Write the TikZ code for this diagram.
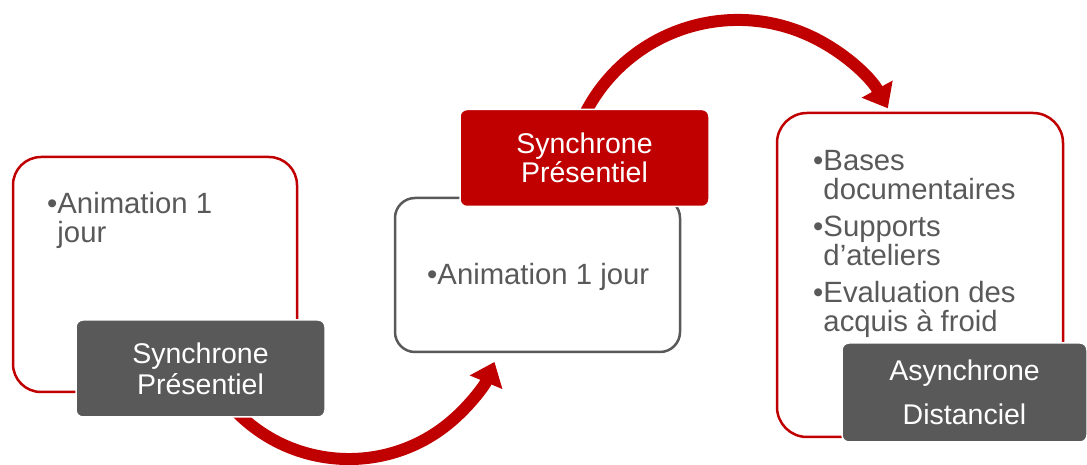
\documentclass[tikz,border=0pt]{standalone}
\usepackage{fontspec}
\setmainfont{Liberation Sans}
\usetikzlibrary{arrows.meta}
\definecolor{brickred}{HTML}{C00000}
\definecolor{slate}{HTML}{595959}

\begin{document}
\begin{tikzpicture}
  [x=1pt, y=1pt,
   every node/.style={font=\fontsize{28.5}{29.5}\selectfont},
   phase/.style={draw, line width=2.5pt, fill=white, rounded corners=28pt, inner sep=0pt},
   phasetag/.style={draw=white, line width=1.5pt, rounded corners=7pt, text=white, align=center,
                    minimum width=249pt, minimum height=97pt, inner sep=0pt},
   bullets/.style={text=slate, align=left, inner sep=0pt, anchor=base west,
                   font=\fontsize{29.3}{29.5}\selectfont},
   cyclearrow/.style={brickred, line width=12pt, -{Triangle[length=22pt,width=34pt]}}]

  \useasboundingbox (0,0) rectangle (1087,465);

  % red arcs (tails hidden under the tags)
  \coordinate (tail1) at (228.1,62.3);
  \coordinate (tail2) at (582.4,346.0);
  \draw[cyclearrow] (tail1) arc[start angle=220, end angle=337.4, radius=157.7pt];
  \draw[cyclearrow] (tail2) arc[start angle=155, end angle=29, radius=171.5pt];

  % first phase (text placed by its last baseline)
  \node[phase, draw=brickred, minimum width=284pt, minimum height=235pt] (box1) at (155,190.5) {};
  \node[bullets] (txt1) at (47,222) {•Animation 1\\\hphantom{•}jour};
  \node[phasetag, fill=slate] (tag1) at (200.5,96.5) {Synchrone\\[1.5pt]Présentiel};

  % second phase
  \node[phase, draw=slate, rounded corners=20pt, minimum width=285pt, minimum height=154pt] (box2) at (537.5,190) {};
  \node[bullets] (txt2) at (427,180) {•Animation 1 jour};
  \node[phasetag, fill=brickred] (tag2) at (584.5,307) {Synchrone\\Présentiel};

  % third phase
  \node[phase, draw=brickred, rounded corners=30pt, minimum width=286pt, minimum height=324pt] (box3) at (920,190) {};
  \node[bullets] (txt3) at (813,133)
    {•Bases\\\hphantom{•}documentaires\\[7pt]•Supports\\\hphantom{•}d’ateliers\\[7pt]•Evaluation des\\\hphantom{•}acquis à froid};
  \node[phasetag, fill=slate, minimum width=245pt, minimum height=99pt] (tag3) at (964.5,72.5) {Asynchrone\\[14.5pt]Distanciel};
\end{tikzpicture}
\end{document}
